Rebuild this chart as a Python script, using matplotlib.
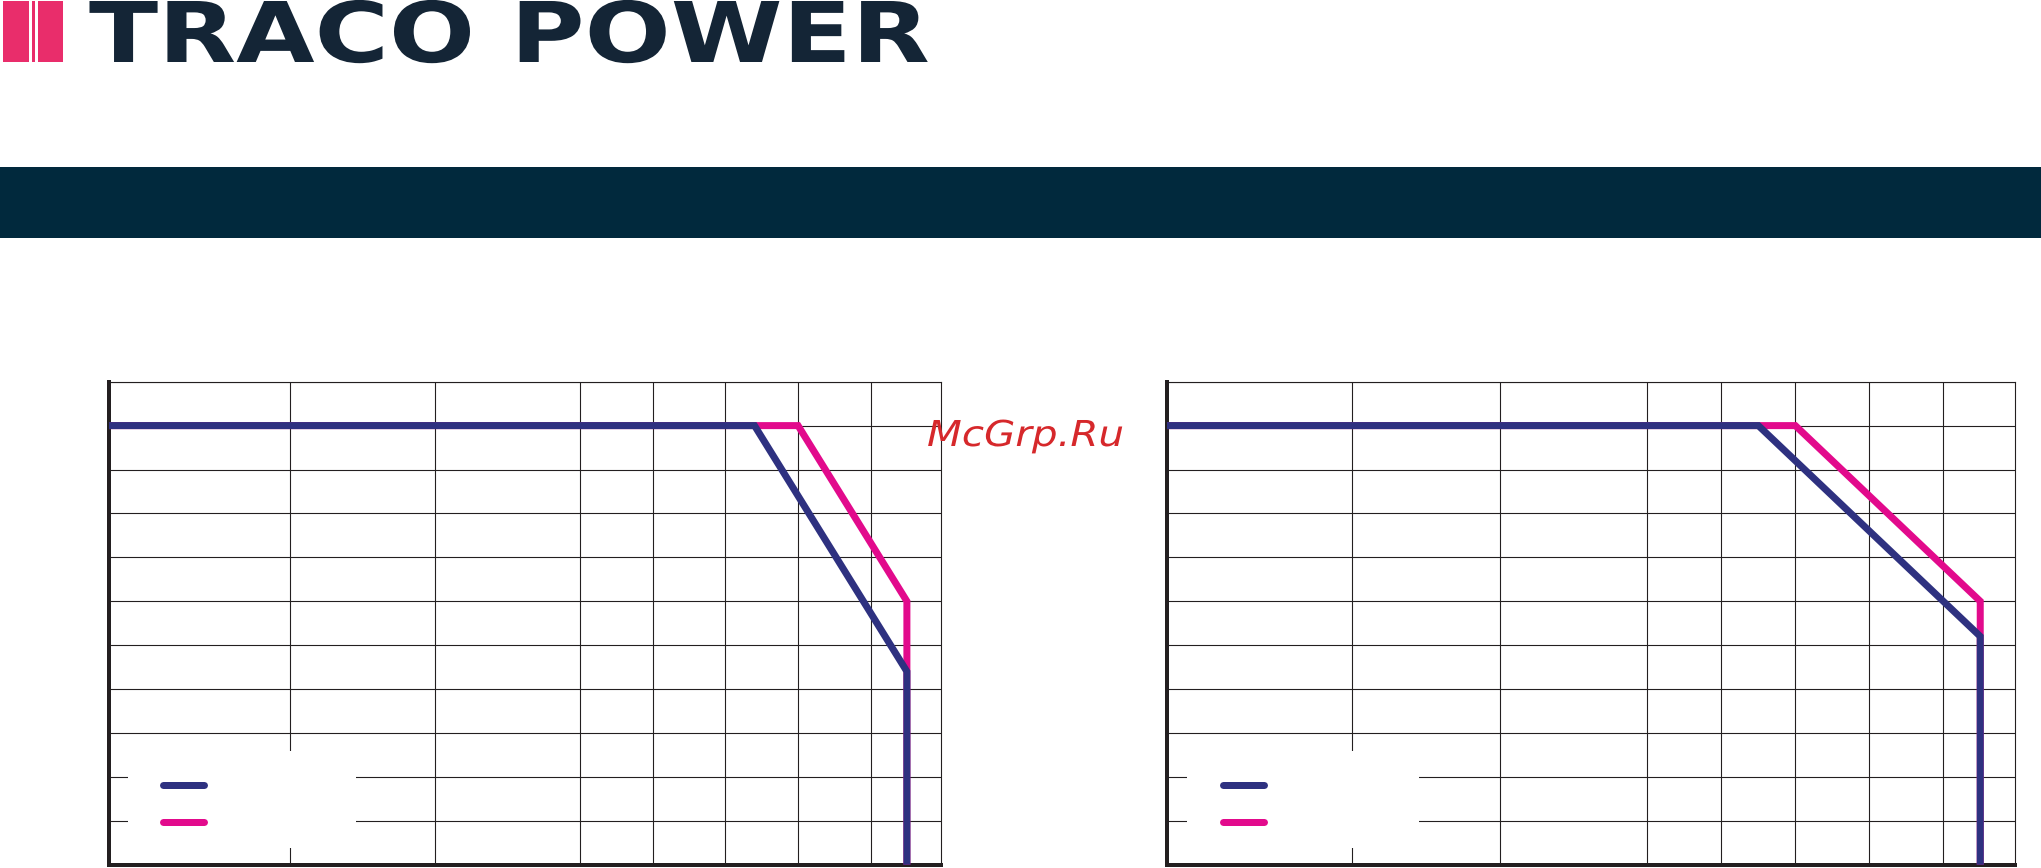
import matplotlib
matplotlib.use("Agg")
import matplotlib.pyplot as plt
from matplotlib.lines import Line2D
from matplotlib.patches import Rectangle
from matplotlib.patheffects import AbstractPathEffect
from matplotlib.transforms import Affine2D

# ---------------- data ----------------
x_grid_ticks = [-25, 0, 20, 40, 50, 60, 70, 80]
y_grid_ticks = [0, 10, 20, 30, 40, 50, 60, 70, 80, 90, 100, 110]
x_limits = (-25, 89.7)
y_limits = (0, 110)

left_blue_temp = [-25, 64, 85, 85]
left_blue_load = [100, 100, 44, 0]
left_pink_temp = [-25, 70, 85, 85]
left_pink_load = [100, 100, 60, 0]

right_blue_temp = [-25, 55, 85, 85]
right_blue_load = [100, 100, 52, 0]
right_pink_temp = [-25, 60, 85, 85]
right_pink_load = [100, 100, 60, 0]

logo_text = "TRACO POWER"
watermark_text = "McGrp.Ru"

# ---------------- style ----------------
W, H, DPI = 2041, 868, 100
BLUE = "#2e3180"
PINK = "#e20a8c"
GRID = "#231f20"
BAND = "#01293d"
LOGO = "#142536"
LOGO_PINK = "#e92d6b"
MARK_RED = "#d6282b"
PT = 72.0 / DPI  # points per pixel
LW = 7 * PT


class StretchX(AbstractPathEffect):
    """Horizontally stretch a text path about its anchor point."""

    def __init__(self, sx):
        super().__init__()
        self.sx = sx

    def draw_path(self, renderer, gc, tpath, affine, rgbFace=None):
        m = affine.get_matrix()
        tx, ty = m[0, 2], m[1, 2]
        extra = Affine2D().translate(-tx, -ty).scale(self.sx, 1.0).translate(tx, ty)
        renderer.draw_path(gc, tpath, affine + extra, rgbFace)


def px_rect(l, t, r, b):
    return [l / W, (H - b) / H, (r - l) / W, (b - t) / H]


fig = plt.figure(figsize=(W / DPI, H / DPI), dpi=DPI, facecolor="white")

# ---------------- header ----------------
def fig_box(l, t, r, b, color):
    fig.add_artist(Rectangle((l / W, (H - b) / H), (r - l) / W, (b - t) / H,
                             transform=fig.transFigure, facecolor=color,
                             edgecolor="none", zorder=1))

fig_box(0, 166.7, W, 238.3, BAND)
fig_box(3, 1, 29.2, 62, LOGO_PINK)
fig_box(31.5, 1, 34.6, 62, LOGO_PINK)
fig_box(38, 1, 62.5, 62, LOGO_PINK)

logo = fig.text(89 / W, (H - 62) / H, logo_text, ha="left", va="baseline",
                fontsize=61 / 0.729 * PT, fontweight="bold",
                family="DejaVu Sans", color=LOGO)
mark = fig.text(927 / W, (H - 446) / H, watermark_text, ha="left",
                va="baseline", fontsize=26 / 0.729 * PT, style="italic",
                family="DejaVu Sans", color=MARK_RED, zorder=10)


# ---------------- charts ----------------
def make_chart(rect, blue_t, blue_l, pink_t, pink_l):
    ax = fig.add_axes(rect)
    ax.set_xlim(*x_limits)
    ax.set_ylim(*y_limits)
    ax.set_xticks(x_grid_ticks)
    ax.set_yticks(y_grid_ticks)
    ax.tick_params(length=0, labelbottom=False, labelleft=False)
    ax.set_axisbelow(True)
    ax.grid(True, color=GRID, linewidth=1.1 * PT)
    for side in ("top", "right"):
        ax.spines[side].set_linewidth(1.1 * PT)
        ax.spines[side].set_color(GRID)
    for side in ("left", "bottom"):
        ax.spines[side].set_linewidth(4 * PT)
        ax.spines[side].set_color(GRID)

    ax.plot(pink_t, pink_l, color=PINK, lw=LW, solid_joinstyle="miter",
            solid_capstyle="butt", zorder=3)
    ax.plot(blue_t, blue_l, color=BLUE, lw=LW, solid_joinstyle="miter",
            solid_capstyle="butt", zorder=4)

    # legend background (white panel hiding the grid)
    ax.add_patch(Rectangle((-22.3, 3.9), 31.4, 22.1, facecolor="white",
                           edgecolor="none", zorder=1))
    handles = [Line2D([], [], color=BLUE, lw=LW, solid_capstyle="round"),
               Line2D([], [], color=PINK, lw=LW, solid_capstyle="round")]
    fs_px = 4 / PT
    ax.legend(handles, ["", ""], loc="upper left",
              bbox_to_anchor=(-17.45, 19.1), bbox_transform=ax.transData,
              frameon=False, fontsize=4, borderpad=0, borderaxespad=0,
              handlelength=41 / fs_px, handleheight=3,
              labelspacing=(42 - 3 * fs_px) / fs_px, handletextpad=0)
    return ax


make_chart(px_rect(108.7, 381.7, 941, 864.7),
           left_blue_temp, left_blue_load, left_pink_temp, left_pink_load)
make_chart(px_rect(1166.7, 381.7, 2015, 864.7),
           right_blue_temp, right_blue_load, right_pink_temp, right_pink_load)

# stretch the wide logo lettering and watermark to their widths
fig.canvas.draw()
r = fig.canvas.get_renderer()
bb = logo.get_window_extent(r)
logo.set_path_effects([StretchX((929 - 89) / bb.width)])
bb = mark.get_window_extent(r)
mark.set_path_effects([StretchX((1124 - 927) / bb.width)])

fig.savefig("out.png", dpi=DPI, facecolor="white")
